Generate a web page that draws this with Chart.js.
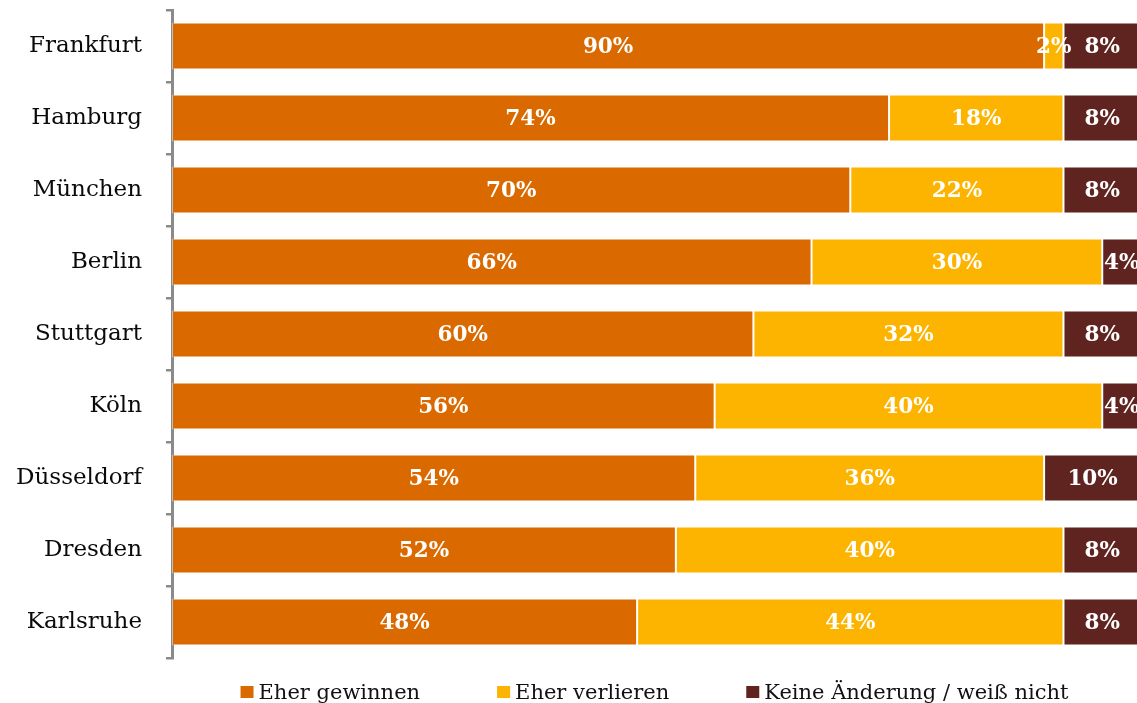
<!DOCTYPE html>
<html>
<head>
<meta charset="utf-8">
<script src="https://cdn.jsdelivr.net/npm/chart.js@4.4.1/dist/chart.umd.min.js"></script>
<style>
  html, body { margin: 0; padding: 0; background: #fff; overflow: hidden; }
  #wrap { width: 1141px; height: 703px; position: relative; }
</style>
</head>
<body>
<div id="wrap"><canvas id="c"></canvas></div>
<script>
const categories = ['Frankfurt', 'Hamburg', 'München', 'Berlin', 'Stuttgart', 'Köln', 'Düsseldorf', 'Dresden', 'Karlsruhe'];
const seriesNames = ['Eher gewinnen', 'Eher verlieren', 'Keine Änderung / weiß nicht'];
const eherGewinnen = [90, 74, 70, 66, 60, 56, 54, 52, 48];
const eherVerlieren = [2, 18, 22, 30, 32, 40, 36, 40, 44];
const keineAenderung = [8, 8, 8, 4, 8, 4, 10, 8, 8];
const seriesColors = ['#DA6A00', '#FDB400', '#5F2320'];

const dataLabels = {
  id: 'dataLabels',
  afterDatasetsDraw(chart) {
    const ctx = chart.ctx;
    ctx.save();
    ctx.font = 'bold 21.5px "DejaVu Serif"';
    ctx.fillStyle = '#ffffff';
    ctx.textAlign = 'center';
    ctx.textBaseline = 'middle';
    chart.data.datasets.forEach((ds, di) => {
      const meta = chart.getDatasetMeta(di);
      meta.data.forEach((el, i) => {
        const v = ds.data[i];
        const cx = (el.x + el.base) / 2;
        ctx.fillText(v + '%', cx, el.y + 1);
      });
    });
    ctx.restore();
  }
};

const bottomLegend = {
  id: 'bottomLegend',
  afterDraw(chart) {
    const ctx = chart.ctx;
    ctx.save();
    ctx.font = '21px "DejaVu Serif"';
    ctx.textBaseline = 'alphabetic';
    ctx.textAlign = 'left';
    const box = 13, gapText = 5, gapItem = 77;
    const items = chart.data.datasets.map(ds => ({
      text: ds.label, color: ds.backgroundColor,
      w: box + gapText + ctx.measureText(ds.label).width
    }));
    const total = items.reduce((s, it) => s + it.w, 0) + gapItem * (items.length - 1);
    let x = 654.5 - total / 2;
    items.forEach(it => {
      ctx.fillStyle = it.color;
      ctx.fillRect(x, 686, box, 12);
      ctx.fillStyle = '#111111';
      ctx.fillText(it.text, x + box + gapText, 699);
      x += it.w + gapItem;
    });
    ctx.restore();
  }
};

const seriesData = [eherGewinnen, eherVerlieren, keineAenderung];

new Chart(document.getElementById('c'), {
  type: 'bar',
  data: {
    labels: categories,
    datasets: seriesNames.map((name, i) => ({
      label: name,
      data: seriesData[i],
      backgroundColor: seriesColors[i],
      borderColor: 'rgba(255,255,255,0.45)',
      borderWidth: 1,
      borderSkipped: false,
      categoryPercentage: 1.0,
      barPercentage: 0.65
    }))
  },
  options: {
    indexAxis: 'y',
    responsive: true,
    maintainAspectRatio: false,
    animation: false,
    layout: { padding: { top: 10, bottom: 45, left: 0, right: 0 } },
    plugins: {
      legend: { display: false },
      tooltip: { enabled: false }
    },
    scales: {
      x: {
        stacked: true,
        display: false,
        min: 0,
        max: 100
      },
      y: {
        stacked: true,
        afterFit(scale) { scale.width = 172; scale.paddingTop = 0; scale.paddingBottom = 0; },
        border: { display: true, color: '#8a8a8a', width: 3 },
        grid: {
          display: true,
          offset: true,
          drawOnChartArea: false,
          drawTicks: true,
          tickLength: 6,
          color: '#8a8a8a',
          lineWidth: 2.5
        },
        ticks: {
          padding: 24,
          color: '#0a0a0a',
          font: { family: 'DejaVu Serif', size: 23 }
        }
      }
    }
  },
  plugins: [dataLabels, bottomLegend]
});
</script>
</body>
</html>
